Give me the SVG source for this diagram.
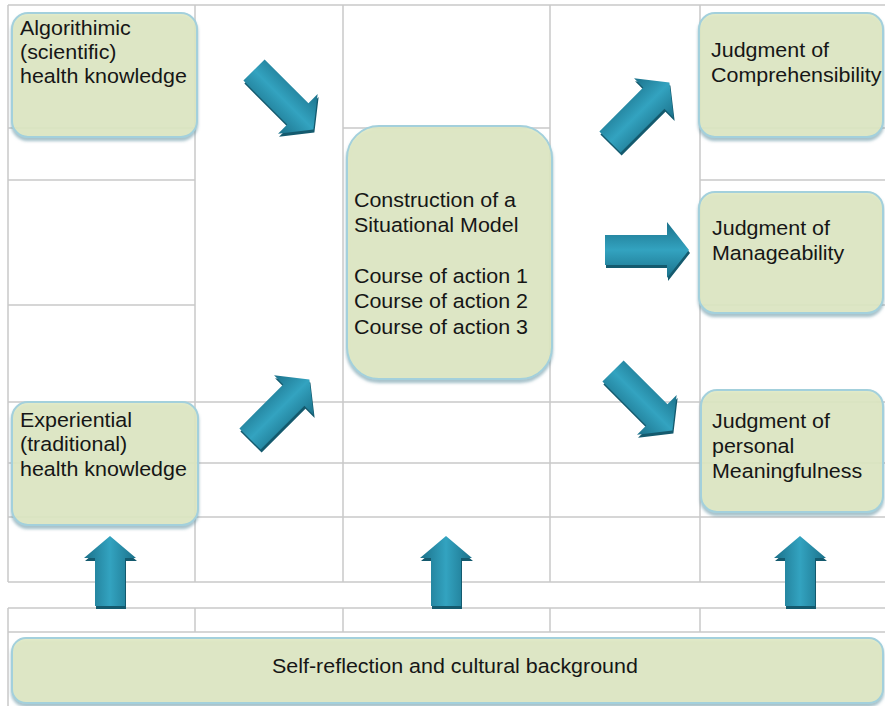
<svg xmlns="http://www.w3.org/2000/svg" xmlns:xlink="http://www.w3.org/1999/xlink" width="885" height="706" viewBox="0 0 885 706">
  <defs>
    <style>
      .grid line { stroke: #c8c8c8; stroke-width: 1.5; }
      .box { fill: #e1eac2; fill-opacity: 0.86; stroke: #a3d0dc; stroke-width: 2; filter: url(#shadow); }
      .lbl { font-family: "Liberation Sans", Arial, Helvetica, sans-serif; font-size: 19.5px; fill: #161616; }
      .ext { fill: #145a6e; }
      .arr { fill: url(#teal); }
      .arrUp { fill: url(#tealUp); }
    </style>
    <filter id="shadow" x="-10%" y="-10%" width="120%" height="130%">
      <feDropShadow dx="0" dy="3" stdDeviation="1.6" flood-color="#5d8f9f" flood-opacity="0.6"/>
    </filter>
    <linearGradient id="teal" x1="0" y1="0" x2="0" y2="1">
      <stop offset="0" stop-color="#1b718a"/>
      <stop offset="0.5" stop-color="#33a3c0"/>
      <stop offset="1" stop-color="#1b718a"/>
    </linearGradient>
    <linearGradient id="tealUp" x1="0" y1="0" x2="1" y2="0">
      <stop offset="0" stop-color="#1b718a"/>
      <stop offset="0.5" stop-color="#33a3c0"/>
      <stop offset="1" stop-color="#1b718a"/>
    </linearGradient>
    <!-- block arrow pointing along +x, origin at tail centre -->
    <path id="blockArrow" d="M0,-15 H62 V-28 L84,0 L62,28 V15 H0 Z"/>
    <!-- shorter upward block arrow, origin at tail centre -->
    <path id="upArrow" d="M-15,0 V-48 H-26 L0,-70 L26,-48 H15 V0 Z"/>
  </defs>

  <rect width="885" height="706" fill="#ffffff"/>

  <!-- background table -->
  <g id="grid" class="grid">
    <line x1="8" y1="5" x2="885" y2="5"/>
    <line x1="8" y1="5" x2="8" y2="582"/>
    <line x1="195" y1="5" x2="195" y2="582"/>
    <line x1="343" y1="5" x2="343" y2="582"/>
    <line x1="550" y1="5" x2="550" y2="582"/>
    <line x1="700" y1="5" x2="700" y2="582"/>
    <line x1="8" y1="128" x2="195" y2="128"/>
    <line x1="343" y1="128" x2="550" y2="128"/>
    <line x1="700" y1="128" x2="885" y2="128"/>
    <line x1="8" y1="180" x2="195" y2="180"/>
    <line x1="700" y1="180" x2="885" y2="180"/>
    <line x1="8" y1="305" x2="195" y2="305"/>
    <line x1="700" y1="305" x2="885" y2="305"/>
    <line x1="8" y1="402" x2="885" y2="402"/>
    <line x1="8" y1="463" x2="885" y2="463"/>
    <line x1="8" y1="517" x2="885" y2="517"/>
    <line x1="8" y1="582" x2="885" y2="582"/>
    <line x1="8" y1="608" x2="885" y2="608"/>
    <line x1="8" y1="632" x2="885" y2="632"/>
    <line x1="8" y1="608" x2="8" y2="706"/>
    <line x1="195" y1="608" x2="195" y2="632"/>
    <line x1="343" y1="608" x2="343" y2="632"/>
    <line x1="550" y1="608" x2="550" y2="632"/>
    <line x1="700" y1="608" x2="700" y2="632"/>
  </g>

  <g id="node-algorithmic">
    <rect class="box" x="12" y="13" width="185" height="124" rx="16"/>
    <text class="lbl" transform="scale(1.1 1)">
      <tspan x="18.2" y="35">Algorithimic</tspan>
      <tspan x="18.2" y="59">(scientific)</tspan>
      <tspan x="18.2" y="83">health knowledge</tspan>
    </text>
  </g>

  <g id="node-experiential">
    <rect class="box" x="12" y="402" width="186" height="123" rx="16"/>
    <text class="lbl" transform="scale(1.1 1)">
      <tspan x="18.2" y="427">Experiential</tspan>
      <tspan x="18.2" y="451">(traditional)</tspan>
      <tspan x="18.2" y="476">health knowledge</tspan>
    </text>
  </g>

  <g id="node-situational-model">
    <rect class="box" x="347" y="126" width="205" height="253" rx="32"/>
    <text class="lbl" transform="scale(1.1 1)">
      <tspan x="321.8" y="207">Construction of a</tspan>
      <tspan x="321.8" y="232">Situational Model</tspan>
      <tspan x="321.8" y="283">Course of action 1</tspan>
      <tspan x="321.8" y="308">Course of action 2</tspan>
      <tspan x="321.8" y="334">Course of action 3</tspan>
    </text>
  </g>

  <g id="node-comprehensibility">
    <rect class="box" x="699" y="13" width="184" height="124" rx="16"/>
    <text class="lbl" transform="scale(1.1 1)">
      <tspan x="646.4" y="57">Judgment of</tspan>
      <tspan x="646.4" y="82">Comprehensibility</tspan>
    </text>
  </g>

  <g id="node-manageability">
    <rect class="box" x="699" y="192" width="184" height="121" rx="16"/>
    <text class="lbl" transform="scale(1.1 1)">
      <tspan x="647.3" y="235">Judgment of</tspan>
      <tspan x="647.3" y="260">Manageability</tspan>
    </text>
  </g>

  <g id="node-meaningfulness">
    <rect class="box" x="701" y="390" width="182" height="122" rx="16"/>
    <text class="lbl" transform="scale(1.1 1)">
      <tspan x="647.3" y="428">Judgment of</tspan>
      <tspan x="647.3" y="453">personal</tspan>
      <tspan x="647.3" y="478">Meaningfulness</tspan>
    </text>
  </g>

  <g id="node-background">
    <rect class="box" x="12" y="638" width="871" height="65" rx="14"/>
    <text class="lbl" transform="scale(1.1 1)" x="413.6" y="673" text-anchor="middle">Self-reflection and cultural background</text>
  </g>

  <!-- block arrows: dark extrusion first, gradient face on top -->
  <g id="connectors">
    <use xlink:href="#blockArrow" class="ext" transform="translate(255,73) rotate(45)"/>
    <use xlink:href="#blockArrow" class="arr" transform="translate(254,70) rotate(45)"/>

    <use xlink:href="#blockArrow" class="ext" transform="translate(251,442) rotate(-45)"/>
    <use xlink:href="#blockArrow" class="arr" transform="translate(250,439) rotate(-45)"/>

    <use xlink:href="#blockArrow" class="ext" transform="translate(611,145) rotate(-45)"/>
    <use xlink:href="#blockArrow" class="arr" transform="translate(610,142) rotate(-45)"/>

    <use xlink:href="#blockArrow" class="ext" transform="translate(606,253)"/>
    <use xlink:href="#blockArrow" class="arr" transform="translate(605,250)"/>

    <use xlink:href="#blockArrow" class="ext" transform="translate(614,374) rotate(45)"/>
    <use xlink:href="#blockArrow" class="arr" transform="translate(613,371) rotate(45)"/>

    <use xlink:href="#upArrow" class="ext" transform="translate(111,609)"/>
    <use xlink:href="#upArrow" class="arrUp" transform="translate(110,606)"/>

    <use xlink:href="#upArrow" class="ext" transform="translate(447,609)"/>
    <use xlink:href="#upArrow" class="arrUp" transform="translate(446,606)"/>

    <use xlink:href="#upArrow" class="ext" transform="translate(801,609)"/>
    <use xlink:href="#upArrow" class="arrUp" transform="translate(800,606)"/>
  </g>
</svg>
